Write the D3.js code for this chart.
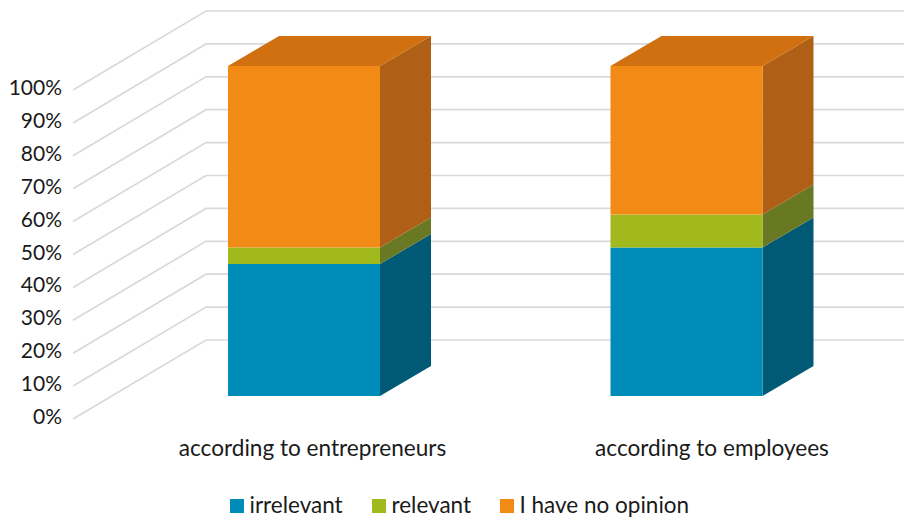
<!DOCTYPE html>
<html><head><meta charset="utf-8">
<style>html,body{margin:0;padding:0;background:#fff}svg{display:block}text{font-family:Lato,Carlito,sans-serif;fill:#1a1a1a}</style>
<script src="https://cdn.jsdelivr.net/npm/d3@7/dist/d3.min.js"></script>
</head><body><script>
const categories=["according to entrepreneurs","according to employees"];
const seriesNames=["irrelevant","relevant","I have no opinion"];
const irrelevant=[40,45];
const relevant=[5,10];
const noOpinion=[55,45];
const ticks=[0,10,20,30,40,50,60,70,80,90,100];
const frontColors=["#008cb8","#a2b91d","#f28a16"];
const sideColors=["#005a76","#697823","#b06016"];
const topColor="#d07010";

const W=904,H=519;
const svg=d3.select("body").append("svg").attr("width",W).attr("height",H);
const yBar=d3.scaleLinear().domain([0,100]).range([396,66]);
const yWall=d3.scaleLinear().domain([0,100]).range([419,90]);
const barW=152,dx=51,dy=-30,wallDx=133,wallDy=-79;
const barCentre=[304,686.5],labelCentre=[312.5,712];

const grid=svg.append("g").attr("fill","none").attr("stroke","#d9d9d9").attr("stroke-width",1.7);
grid.selectAll("path").data(ticks).join("path")
 .attr("d",t=>`M73,${yWall(t)}L${73+wallDx},${yWall(t)+wallDy}L${W},${yWall(t)+wallDy}`);

svg.append("g").selectAll("text").data(ticks).join("text")
 .attr("x",62).attr("y",t=>yWall(t)+5).attr("text-anchor","end").attr("font-size",21)
 .text(t=>t+"%");

const stacks=[irrelevant,relevant,noOpinion];
categories.forEach((c,i)=>{
  const g=svg.append("g");
  const left=barCentre[i]-barW/2,right=left+barW;
  let acc=0;
  stacks.forEach((s,k)=>{
    const y0=yBar(acc),y1=yBar(acc+s[i]);
    g.append("path").attr("fill",sideColors[k])
     .attr("d",`M${right},${y0}L${right+dx},${y0+dy}L${right+dx},${y1+dy}L${right},${y1}Z`);
    g.append("rect").attr("x",left).attr("y",y1).attr("width",barW).attr("height",y0-y1).attr("fill",frontColors[k]);
    acc+=s[i];
  });
  const t=yBar(acc);
  g.append("path").attr("fill",topColor)
   .attr("d",`M${left},${t}L${left+dx},${t+dy}L${right+dx},${t+dy}L${right},${t}Z`);
  svg.append("text").attr("x",labelCentre[i]).attr("y",456).attr("text-anchor","middle").attr("font-size",22.6).text(c);
});

const legendX=[230,372,500];
const lg=svg.append("g");
seriesNames.forEach((n,i)=>{
  lg.append("rect").attr("x",legendX[i]).attr("y",499).attr("width",14).attr("height",14).attr("fill",frontColors[i]);
  lg.append("text").attr("x",legendX[i]+19.5).attr("y",513).attr("font-size",22.5).text(n);
});
</script></body></html>
